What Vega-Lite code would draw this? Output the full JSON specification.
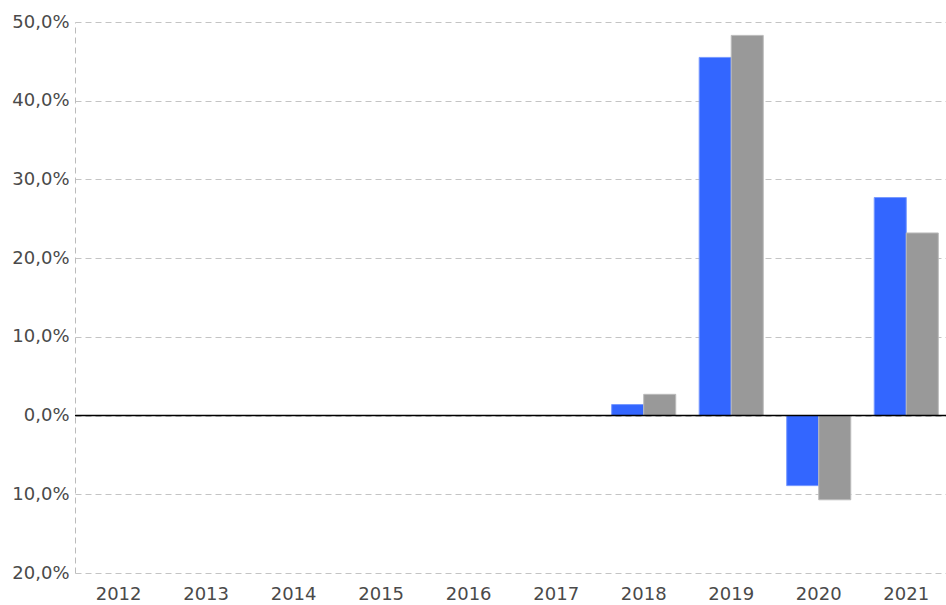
{
  "$schema": "https://vega.github.io/schema/vega-lite/v6.json",
  "autosize": "none",
  "width": 871,
  "height": 551,
  "padding": {"left": 75, "top": 22, "right": 0, "bottom": 32},
  "background": "white",
  "config": {
    "view": {"stroke": null},
    "axis": {"labelFont": "DejaVu Sans", "labelFontSize": 18, "labelColor": "#4a4a4a"}
  },
  "data": {
    "values": [
      {"year": "2018", "series": "A", "value": 1.4},
      {"year": "2018", "series": "B", "value": 2.7},
      {"year": "2019", "series": "A", "value": 45.5},
      {"year": "2019", "series": "B", "value": 48.3},
      {"year": "2020", "series": "A", "value": -8.9},
      {"year": "2020", "series": "B", "value": -10.7},
      {"year": "2021", "series": "A", "value": 27.7},
      {"year": "2021", "series": "B", "value": 23.2}
    ]
  },
  "layer": [
    {
      "mark": {"type": "bar", "strokeWidth": 1},
      "encoding": {
        "x": {
          "field": "year", "type": "nominal",
          "scale": {"domain": ["2012","2013","2014","2015","2016","2017","2018","2019","2020","2021"], "paddingInner": 0.268, "paddingOuter": 0.11, "align": 0.6},
          "axis": {"title": null, "labelAngle": 0, "ticks": false, "domain": false, "labelPadding": 12, "grid": false}
        },
        "xOffset": {"field": "series", "type": "nominal", "scale": {"domain": ["A", "B"]}},
        "y": {
          "field": "value", "type": "quantitative",
          "scale": {"domain": [-20, 50], "nice": false, "zero": false},
          "axis": {
            "title": null, "values": [-20, -10, 0, 10, 20, 30, 40, 50],
            "labelExpr": "replace(format(abs(datum.value), '.1f'), '.', ',') + '%'",
            "ticks": false, "labelPadding": 6,
            "domain": true, "domainColor": "#bbbbbb", "domainDash": [6, 4],
            "grid": true, "gridColor": "#c4c4c4", "gridDash": [6, 4]
          }
        },
        "color": {
          "field": "series", "type": "nominal",
          "scale": {"domain": ["A", "B"], "range": ["#3366ff", "#999999"]},
          "legend": null
        },
        "stroke": {
          "field": "series", "type": "nominal",
          "scale": {"domain": ["A", "B"], "range": ["#7799ff", "#bbbbbb"]},
          "legend": null
        }
      }
    },
    {
      "data": {"values": [{"zero": 0}]},
      "mark": {"type": "rule", "color": "#000000", "strokeWidth": 1.5},
      "encoding": {"y": {"field": "zero", "type": "quantitative"}}
    }
  ]
}
